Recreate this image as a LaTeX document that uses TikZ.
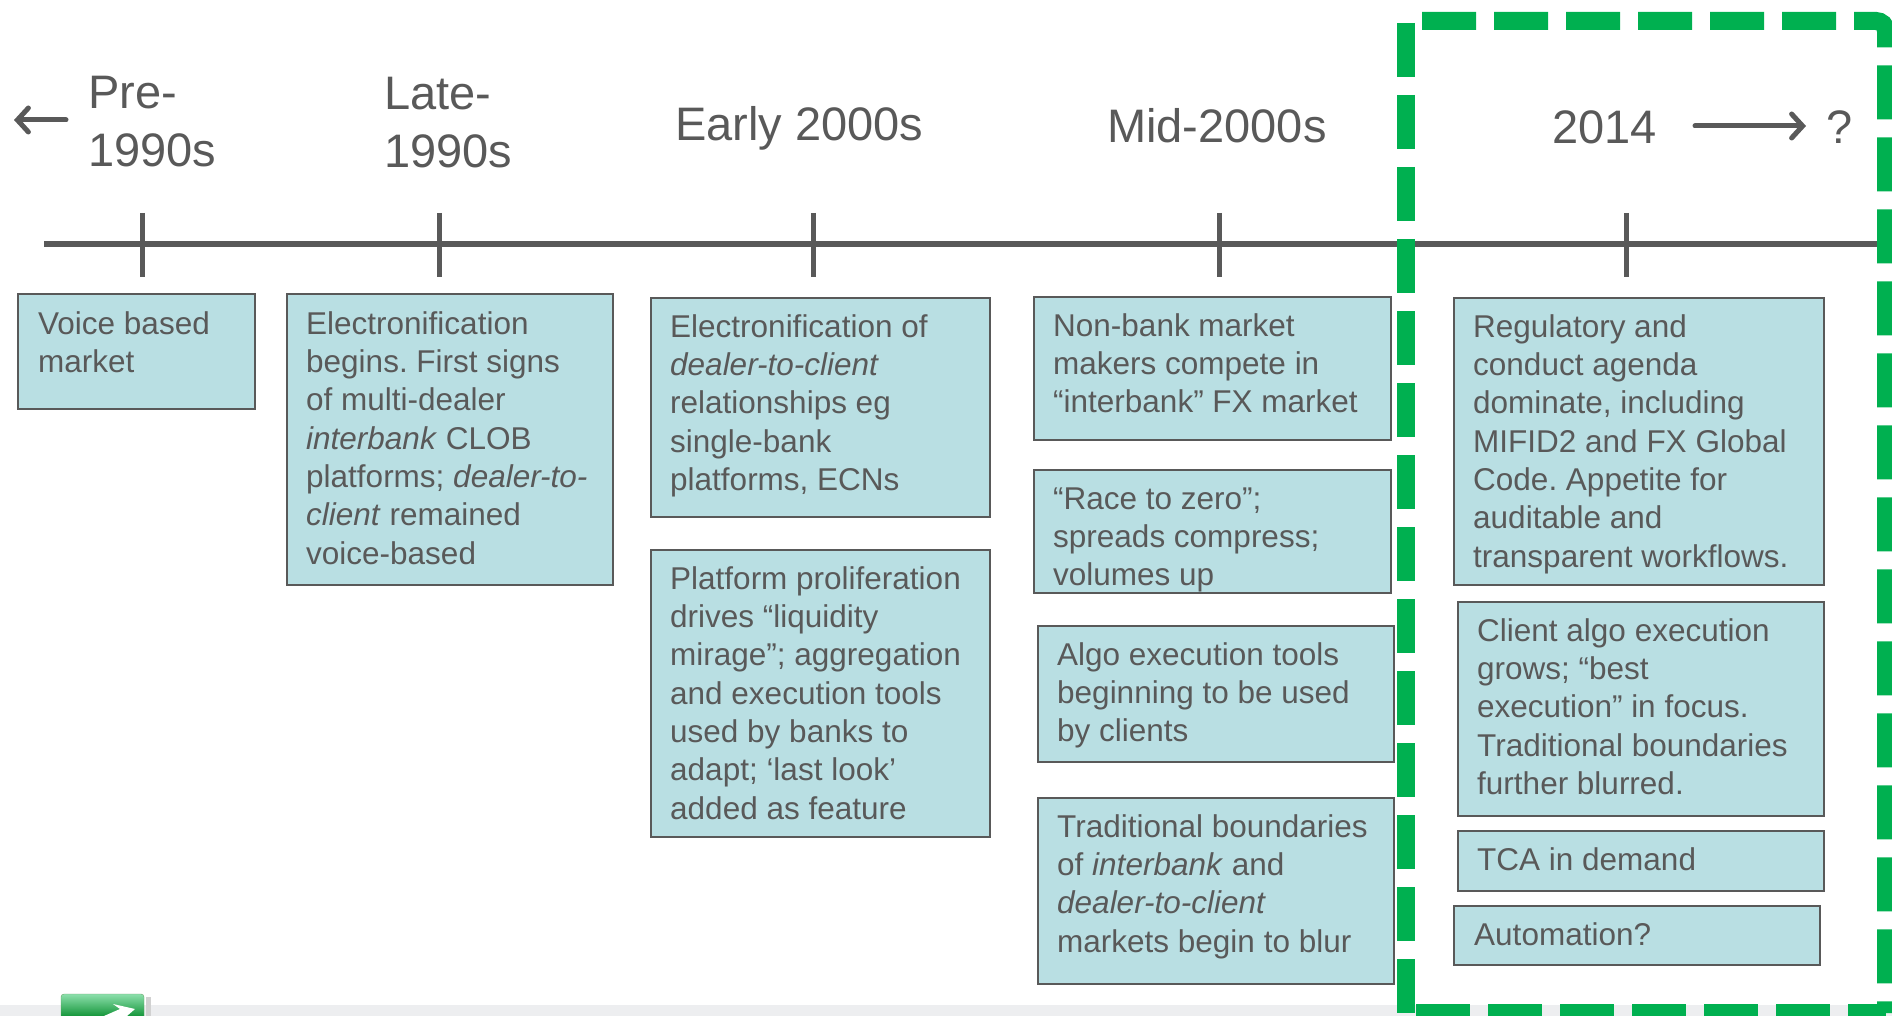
\documentclass[tikz,border=0pt]{standalone}
\usepackage{fontspec}
\setmainfont{Liberation Sans}
\usetikzlibrary{arrows.meta}
\frenchspacing
\definecolor{txtgrey}{HTML}{595959}
\definecolor{boxfill}{HTML}{B9DFE3}
\definecolor{dgreen}{HTML}{00B050}
\definecolor{bandgrey}{HTML}{EDEEF0}
\newcommand{\firstln}{\rule{0pt}{24pt}}
\tikzset{
  evbox/.style={draw=txtgrey, line width=2.2pt, fill=boxfill, inner sep=0pt, anchor=north west},
  evtxt/.style={anchor=north west, inner sep=0pt, align=left, text=txtgrey, font=\fontsize{31.5}{38.3}\selectfont},
  hdr/.style={anchor=base west, inner sep=0pt, align=left, text=txtgrey, font=\fontsize{47}{58}\selectfont},
  axisline/.style={draw=txtgrey, line width=6pt},
  tickmark/.style={draw=txtgrey, line width=5pt},
  darrow/.style={draw=txtgrey, line width=5pt, line cap=round, -{Straight Barb[length=11pt,width=24pt,line cap=round]}},
  dashbox/.style={draw=dgreen, line width=18pt, dash pattern=on 54pt off 18pt}
}
\begin{document}
\begin{tikzpicture}[x=1pt,y=-1pt]
\useasboundingbox (0,0) rectangle (1892,1016);
% bottom band and button
\fill[bandgrey] (0,1005) rectangle (1892,1016);
\fill[black!18] (146,997) rectangle (151,1016);
\shade[top color=green!45!teal!45, bottom color=green!55!black!70!teal, rounded corners=3pt, draw=green!40!black!60] (61,994) rectangle (144,1020);
\fill[white] (104,1016) -- (120,1009) -- (113,1004) -- (135,1009) -- (127,1016) -- cycle;

% timeline
\coordinate (tlS) at (44,244);
\coordinate (tlE) at (1892,244);
\draw[axisline] (tlS) -- (tlE);
\foreach \tx/\nm in {142/t1,439/t2,813/t3,1219/t4,1626/t5}{
  \coordinate (\nm a) at (\tx,213);
  \coordinate (\nm b) at (\tx,277);
  \draw[tickmark] (\nm a) -- (\nm b);
}

% headers
\node[hdr] (hPre) at (88,167) {Pre-\\1990s};
\node[hdr] (hLate) at (384,168) {Late-\\1990s};
\node[hdr] (hEarly) at (675,141) {Early 2000s};
\node[hdr] (hMid) at (1107,143) {Mid-2000s};
\node[hdr] (h2014) at (1552,144) {2014};
\node[hdr] (hQ) at (1826,144) {?};
\coordinate (laS) at (66,120);
\coordinate (laE) at (14,120);
\draw[darrow] (laS) -- (laE);
\coordinate (raS) at (1695,126);
\coordinate (raE) at (1806,126);
\draw[darrow] (raS) -- (raE);

% boxes
\node[evbox, minimum width=237pt, minimum height=115pt] (bA) at (17,293) {};
\node[evtxt] (tA) at (38,310) {\firstln Voice based\\market};

\node[evbox, minimum width=326pt, minimum height=291pt] (bB) at (286,293) {};
\node[evtxt] (tB) at (306,310) {\firstln Electronification\\begins. First signs\\of multi-dealer\\\textit{interbank} CLOB\\platforms; \textit{dealer-to-}\\\textit{client} remained\\voice-based};

\node[evbox, minimum width=339pt, minimum height=219pt] (bC) at (650,297) {};
\node[evtxt] (tC) at (670,313) {\firstln Electronification of\\\textit{dealer-to-client}\\relationships eg\\single-bank\\platforms, ECNs};

\node[evbox, minimum width=339pt, minimum height=287pt] (bD) at (650,549) {};
\node[evtxt] (tD) at (670,565) {\firstln Platform proliferation\\drives “liquidity\\mirage”; aggregation\\and execution tools\\used by banks to\\adapt; ‘last look’\\added as feature};

\node[evbox, minimum width=357pt, minimum height=143pt] (bE) at (1033,296) {};
\node[evtxt] (tE) at (1053,312) {\firstln Non-bank market\\makers compete in\\“interbank” FX market};

\node[evbox, minimum width=357pt, minimum height=123pt] (bF) at (1033,469) {};
\node[evtxt] (tF) at (1053,485) {\firstln “Race to zero”;\\spreads compress;\\volumes up};

\node[evbox, minimum width=356pt, minimum height=136pt] (bG) at (1037,625) {};
\node[evtxt] (tG) at (1057,641) {\firstln Algo execution tools\\beginning to be used\\by clients};

\node[evbox, minimum width=356pt, minimum height=186pt] (bH) at (1037,797) {};
\node[evtxt] (tH) at (1057,813) {\firstln Traditional boundaries\\of \textit{interbank} and\\\textit{dealer-to-client}\\markets begin to blur};

\node[evbox, minimum width=370pt, minimum height=287pt] (bI) at (1453,297) {};
\node[evtxt] (tI) at (1473,313) {\firstln Regulatory and\\conduct agenda\\dominate, including\\MIFID2 and FX Global\\Code. Appetite for\\auditable and\\transparent workflows.};

\node[evbox, minimum width=366pt, minimum height=214pt] (bJ) at (1457,601) {};
\node[evtxt] (tJ) at (1477,617) {\firstln Client algo execution\\grows; “best\\execution” in focus.\\Traditional boundaries\\further blurred.};

\node[evbox, minimum width=366pt, minimum height=60pt] (bK) at (1457,830) {};
\node[evtxt] (tK) at (1477,846) {\firstln TCA in demand};

\node[evbox, minimum width=366pt, minimum height=59pt] (bL) at (1453,905) {};
\node[evtxt] (tL) at (1474,921) {\firstln Automation?};

% dashed highlight frame
\coordinate (dTL) at (1406,21);
\coordinate (dTR) at (1886,21);
\coordinate (dBR) at (1886,1013);
\coordinate (dBL) at (1406,1013);
\draw[dashbox, dash phase=56pt, rounded corners=10pt] (dTL) -- (dTR) -- (dBR);
\draw[dashbox, dash phase=70pt] (dTL) -- (dBL);
\draw[dashbox, dash phase=62pt] (dBL) -- (dBR);
\end{tikzpicture}
\end{document}
